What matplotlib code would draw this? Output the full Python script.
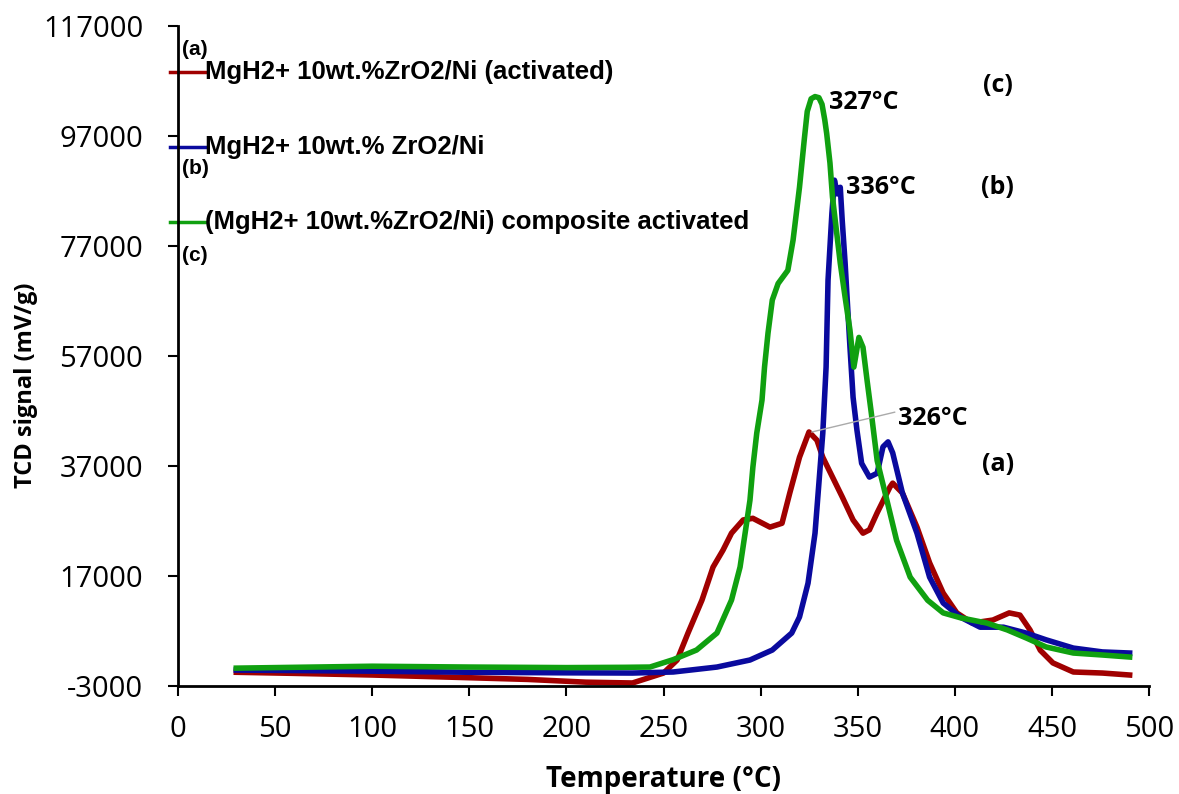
import numpy as np
import matplotlib
matplotlib.use("Agg")
import matplotlib.pyplot as plt

# (a) MgH2 + 10wt.% ZrO2/Ni (activated) - red
x_a = [30, 60, 100, 141, 180, 210, 234, 250, 257, 262.6, 269.8, 275.5, 280.6, 285, 291,
       296, 304.8, 311, 315, 320, 324.9, 329, 332, 337, 342, 347.6, 352.7, 356, 360,
       366.6, 368, 373, 380.5, 387, 394, 401, 409, 419.6, 428, 433.5, 438.7, 444,
       450.5, 461, 476, 490]
y_a = [-500, -700, -1000, -1400, -1800, -2300, -2450, -640, 1730, 6635, 12635, 18630,
       21700, 24800, 27200, 27500, 25900, 26600, 32100, 38600, 43200, 41700, 38600,
       35000, 31400, 27200, 24800, 25400, 28500, 33200, 33900, 32100, 25900, 19400,
       13900, 10300, 8450, 9000, 10300, 9900, 7200, 3500, 1200, -450, -640, -1000]

# (b) MgH2 + 10wt.% ZrO2/Ni - blue
x_b = [30, 100, 150, 200, 234, 255, 277.5, 294.5, 306, 316, 320, 324.4, 328, 330, 332,
       333.7, 334.7, 336.7, 338, 339.5, 341, 342, 343.5, 344.5, 346, 347.6, 349.6, 352,
       356, 360, 363, 365.6, 368, 373, 380.5, 387, 394, 403, 413, 425, 437, 447, 461,
       476, 490]
y_b = [-100, -300, -500, -600, -640, -450, 450, 1730, 3545, 6635, 9545, 15700, 24800,
       33900, 43000, 55000, 70800, 83000, 89000, 86500, 87700, 81700, 73900, 67700,
       58600, 49500, 43500, 37500, 35000, 35700, 40500, 41400, 39400, 32100, 24800,
       16800, 12100, 9500, 7700, 7700, 6600, 5400, 3900, 3200, 3000]

# (c) (MgH2 + 10wt.% ZrO2/Ni) composite activated - green
x_c = [30, 60, 100, 150, 200, 230, 243, 255, 267, 277.5, 285, 289.4, 292, 294.5, 296,
       298, 300.7, 302, 303.8, 306, 309, 311.5, 314, 316.7, 320, 322.5, 324, 326, 328,
       330, 331.6, 333, 334, 335.7, 337, 339, 341, 343.5, 346, 348, 350.6, 352.7, 354.8,
       357, 360, 365, 370, 377, 386, 394, 403, 416.5, 427, 437, 447, 461, 476, 490]
y_c = [250, 400, 600, 450, 350, 400, 450, 1800, 3545, 6635, 12635, 18630, 24800, 30800,
       36800, 43000, 49000, 55000, 61200, 67200, 70200, 71400, 72600, 78100, 87700, 96500,
       101500, 103800, 104200, 104000, 102800, 100000, 97500, 92100, 85900, 79900, 73900,
       67700, 61700, 55000, 60400, 58600, 52600, 46600, 38000, 30800, 23500, 16800,
       12600, 10300, 9400, 8450, 7200, 5700, 4100, 3000, 2640, 2270]

labels = ["MgH2+ 10wt.%ZrO2/Ni (activated)",
          "MgH2+ 10wt.% ZrO2/Ni",
          "(MgH2+ 10wt.%ZrO2/Ni) composite activated"]
colors = ["#a00000", "#0a0a9e", "#10a010"]
y_ticks = [-3000, 17000, 37000, 57000, 77000, 97000, 117000]
x_ticks = list(range(0, 501, 50))

# peak annotations: text, x, y
peak_notes = [("327°C", 335, 103200), ("336°C", 344, 87700), ("326°C", 370.7, 45700)]
curve_tags = [("(c)", 422, 106200), ("(b)", 422, 87700), ("(a)", 422, 37200)]

plt.rcParams['font.family'] = ['Open Sans', 'DejaVu Sans']
plt.rcParams['axes.unicode_minus'] = False

fig = plt.figure(figsize=(11.79, 7.94), dpi=100)
ax = fig.add_axes([0.151, 0.136, 0.8236, 0.831])

for xs, ys, c in zip([x_a, x_b, x_c], [y_a, y_b, y_c], colors):
    ax.plot(xs, ys, color=c, linewidth=4, solid_joinstyle='round')

ax.set_xlim(0, 500)
ax.set_ylim(-3000, 117000)
ax.set_xticks(x_ticks)
ax.set_yticks(y_ticks)
ax.tick_params(labelsize=21, width=1.5, length=7, direction='out', colors='black')
ax.tick_params(axis='y', pad=18)
ax.tick_params(axis='x', pad=14)
for s in ['top', 'right']:
    ax.spines[s].set_visible(False)
for s in ['left', 'bottom']:
    ax.spines[s].set_linewidth(2)

ax.set_xlabel("Temperature (°C)", fontsize=20, fontweight='bold')
ax.set_ylabel("TCD signal (mV/g)", fontsize=17, fontweight='bold')
ax.xaxis.set_label_coords(0.5, -0.142)
ax.yaxis.set_label_coords(-0.157, 0.456)
ax.xaxis.label.set_va('center')
ax.yaxis.label.set_va('center')

# peak labels
for t, x, y in peak_notes:
    ax.text(x, y, t, fontsize=18, fontweight='bold', va='center', ha='left')
ax.plot([326.4, 369], [43200, 46800], color='#aaaaaa', linewidth=1)
for t, x, y in curve_tags:
    ax.text(x, y, t, fontsize=18, fontweight='bold', va='center', ha='center')

# legend drawn as in the original (handles crossing the y axis)
leg_y = [0.930, 0.817, 0.703]
tag_y = [0.964, 0.785, 0.653]
for lab, c, ly, tag, ty in zip(labels, colors, leg_y, ["(a)", "(b)", "(c)"], tag_y):
    ax.plot([-0.008, 0.028], [ly, ly], color=c, linewidth=2.5,
            transform=ax.transAxes, clip_on=False)
    ax.text(0.028, ly, lab, transform=ax.transAxes, fontsize=18.5, fontweight='bold',
            va='center', ha='left', family=['Liberation Sans Narrow', 'Liberation Sans'])
    ax.text(0.004, ty, tag, transform=ax.transAxes, fontsize=15, fontweight='bold',
            va='center', ha='left', family=['Liberation Sans Narrow', 'Liberation Sans'])

fig.savefig("out.png", dpi=100)
